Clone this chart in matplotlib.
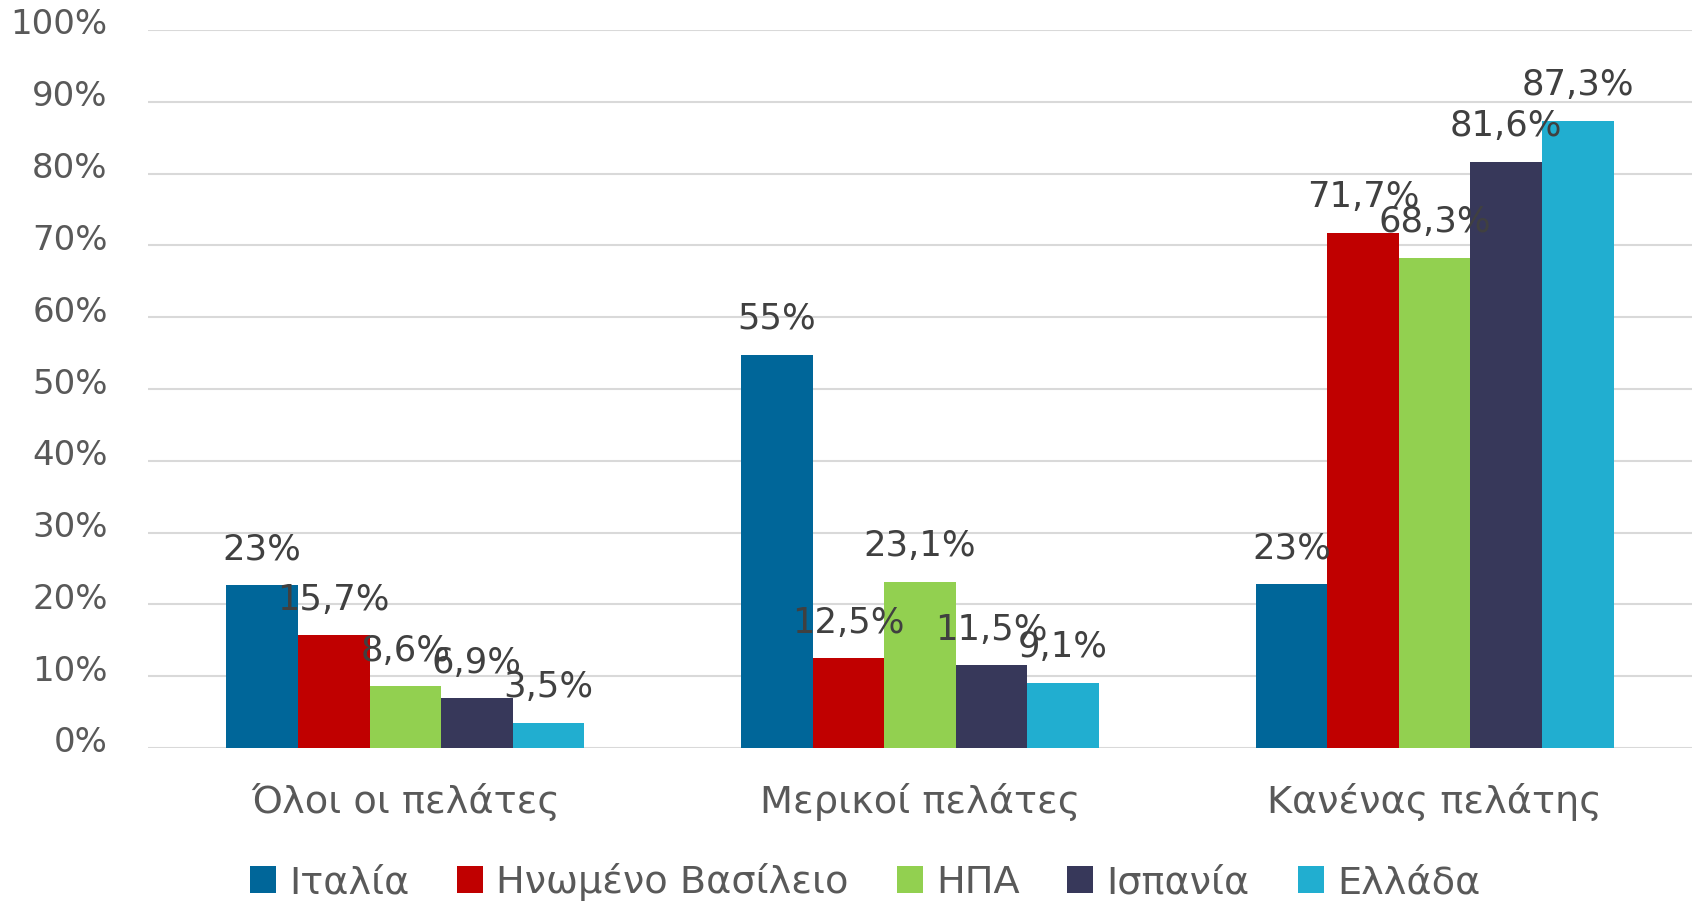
import matplotlib
matplotlib.use("Agg")
import matplotlib.pyplot as plt
import matplotlib.transforms as mtransforms
import numpy as np

plt.rcParams['font.family'] = ['DejaVu Sans']

categories = ["Όλοι οι πελάτες", "Μερικοί πελάτες", "Κανένας πελάτης"]
series = ["Ιταλία", "Ηνωμένο Βασίλειο", "ΗΠΑ", "Ισπανία", "Ελλάδα"]
italy = [22.7, 54.8, 22.8]
uk = [15.7, 12.5, 71.7]
usa = [8.6, 23.1, 68.3]
spain = [6.9, 11.5, 81.6]
greece = [3.5, 9.1, 87.3]
italy_labels = ["23%", "55%", "23%"]
uk_labels = ["15,7%", "12,5%", "71,7%"]
usa_labels = ["8,6%", "23,1%", "68,3%"]
spain_labels = ["6,9%", "11,5%", "81,6%"]
greece_labels = ["3,5%", "9,1%", "87,3%"]
yticks = [0, 10, 20, 30, 40, 50, 60, 70, 80, 90, 100]

colors = ["#006699", "#C00000", "#92D050", "#37385A", "#21AED0"]
values = [italy, uk, usa, spain, greece]
labels = [italy_labels, uk_labels, usa_labels, spain_labels, greece_labels]

fig = plt.figure(figsize=(16.94, 9.01), dpi=100)
ax = fig.add_axes([148/1694, 1-748/901, (1692-148)/1694, (748-30)/901])

x = np.arange(len(categories))
w = 0.139
fs = 25.5
for i, (vals, labs, c, name) in enumerate(zip(values, labels, colors, series)):
    pos = x + (i - 2) * w
    bars = ax.bar(pos, vals, width=w, color=c, label=name, zorder=2)
    for b, lab in zip(bars, labs):
        ax.annotate(lab, (b.get_x() + b.get_width()/2, b.get_height()),
                    xytext=(0, 18.5), textcoords='offset points',
                    ha='center', va='baseline', fontsize=fs, color='#404040', zorder=3)

ax.set_xlim(-0.5, 2.5)
ax.set_ylim(0, 100)
ax.set_yticks(yticks)
ax.set_yticklabels([f"{t}%" for t in yticks])
ax.set_xticks(x)
ax.set_xticklabels(categories)
ax.tick_params(axis='y', length=0, pad=29, labelsize=24.5, labelcolor='#595959')
ax.tick_params(axis='x', length=0, pad=25, labelsize=27.5, labelcolor='#595959')
shift = mtransforms.ScaledTranslation(0, 5/100, fig.dpi_scale_trans)
for t in ax.get_yticklabels():
    t.set_verticalalignment('center')
    t.set_transform(t.get_transform() + shift)
ax.grid(axis='y', color='#D9D9D9', linewidth=1.5, zorder=0)
ax.set_axisbelow(True)
for s in ax.spines.values():
    s.set_visible(False)

handles, lbls = ax.get_legend_handles_labels()
fig.legend(handles, lbls, loc='center', bbox_to_anchor=(865/1694, 1-882/901),
           ncol=5, frameon=False, fontsize=27.5, labelcolor='#595959',
           handlelength=0.68, handleheight=0.68, handletextpad=0.35, columnspacing=1.25)

fig.savefig("out.png", dpi=100)
